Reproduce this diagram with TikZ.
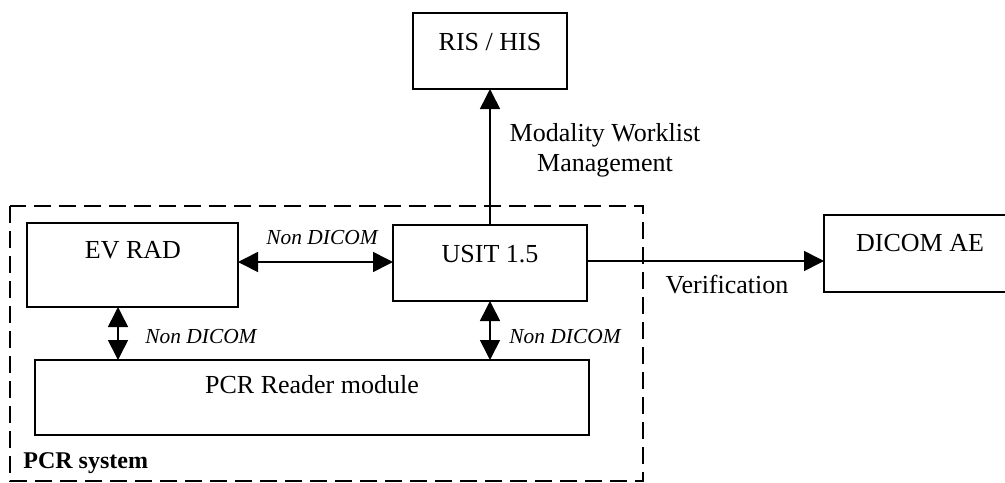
\documentclass[tikz,border=0pt]{standalone}
\usepackage{fontspec}
\setmainfont{Liberation Serif}
\usetikzlibrary{arrows.meta}
\begin{document}
\begin{tikzpicture}[x=0.5pt,y=-0.5pt,
  box/.style={draw,line width=0.8pt,inner sep=0pt,outer sep=0pt},
  txt/.style={inner sep=0pt,font=\fontsize{13}{16}\selectfont},
  ital/.style={inner sep=0pt,font=\fontsize{10.7}{13}\selectfont\itshape},
  conn/.style={line width=0.8pt,-{Triangle[length=10pt,width=10pt]}},
  dconn/.style={line width=0.8pt,{Triangle[length=10pt,width=10pt]}-{Triangle[length=10pt,width=10pt]}}]
\useasboundingbox (0,0) rectangle (1005,482);
% dashed system frame
\draw[line width=0.8pt,dash pattern=on 8.5pt off 4pt] (10,206) rectangle (643,481);
% boxes
\node[box,minimum width=77pt,minimum height=38pt] (ris) at (490,51) {};
\node[box,minimum width=97pt,minimum height=38pt] (usit) at (490,263) {};
\node[box,minimum width=105.5pt,minimum height=42pt] (ev) at (132.5,265) {};
\node[box,minimum width=95.5pt,minimum height=38.5pt] (ae) at (919.5,253.5) {};
\node[box,minimum width=277pt,minimum height=37.5pt] (pcr) at (312,397.5) {};
% box texts
\node[txt] (tris) at (490,42) {RIS / HIS};
\node[txt] (tusit) at (490,254) {USIT 1.5};
\node[txt] (tev) at (133,250) {EV RAD};
\node[txt] (tae) at (920,243) {DICOM AE};
\node[txt] (tpcr) at (312,385) {PCR Reader module};
% connectors
\coordinate (usitL) at (393,262);
\coordinate (evR) at (238,262);
\draw[dconn] (evR) -- (usitL);
\draw[conn] (usit.north) -- (ris.south);
\coordinate (usitR) at (587,261);
\coordinate (aeL) at (824,261);
\draw[conn] (usitR) -- (aeL);
\coordinate (evB) at (118,307);
\coordinate (pcrT1) at (118,360);
\draw[dconn] (evB) -- (pcrT1);
\coordinate (usitB) at (490,301);
\coordinate (pcrT2) at (490,360);
\draw[dconn] (usitB) -- (pcrT2);
% labels
\node[txt,align=center,font=\fontsize{13}{15}\selectfont] (mwl) at (605,150) {Modality Worklist\\Management};
\node[ital] (nd1) at (322,238) {Non DICOM};
\node[txt] (ver) at (727,285) {Verification};
\node[ital] (nd2) at (201,337) {Non DICOM};
\node[ital] (nd3) at (565,337) {Non DICOM};
\node[inner sep=0pt,anchor=west,font=\fontsize{12}{14}\selectfont\bfseries] (sys) at (23,463) {PCR system};
\end{tikzpicture}
\end{document}
